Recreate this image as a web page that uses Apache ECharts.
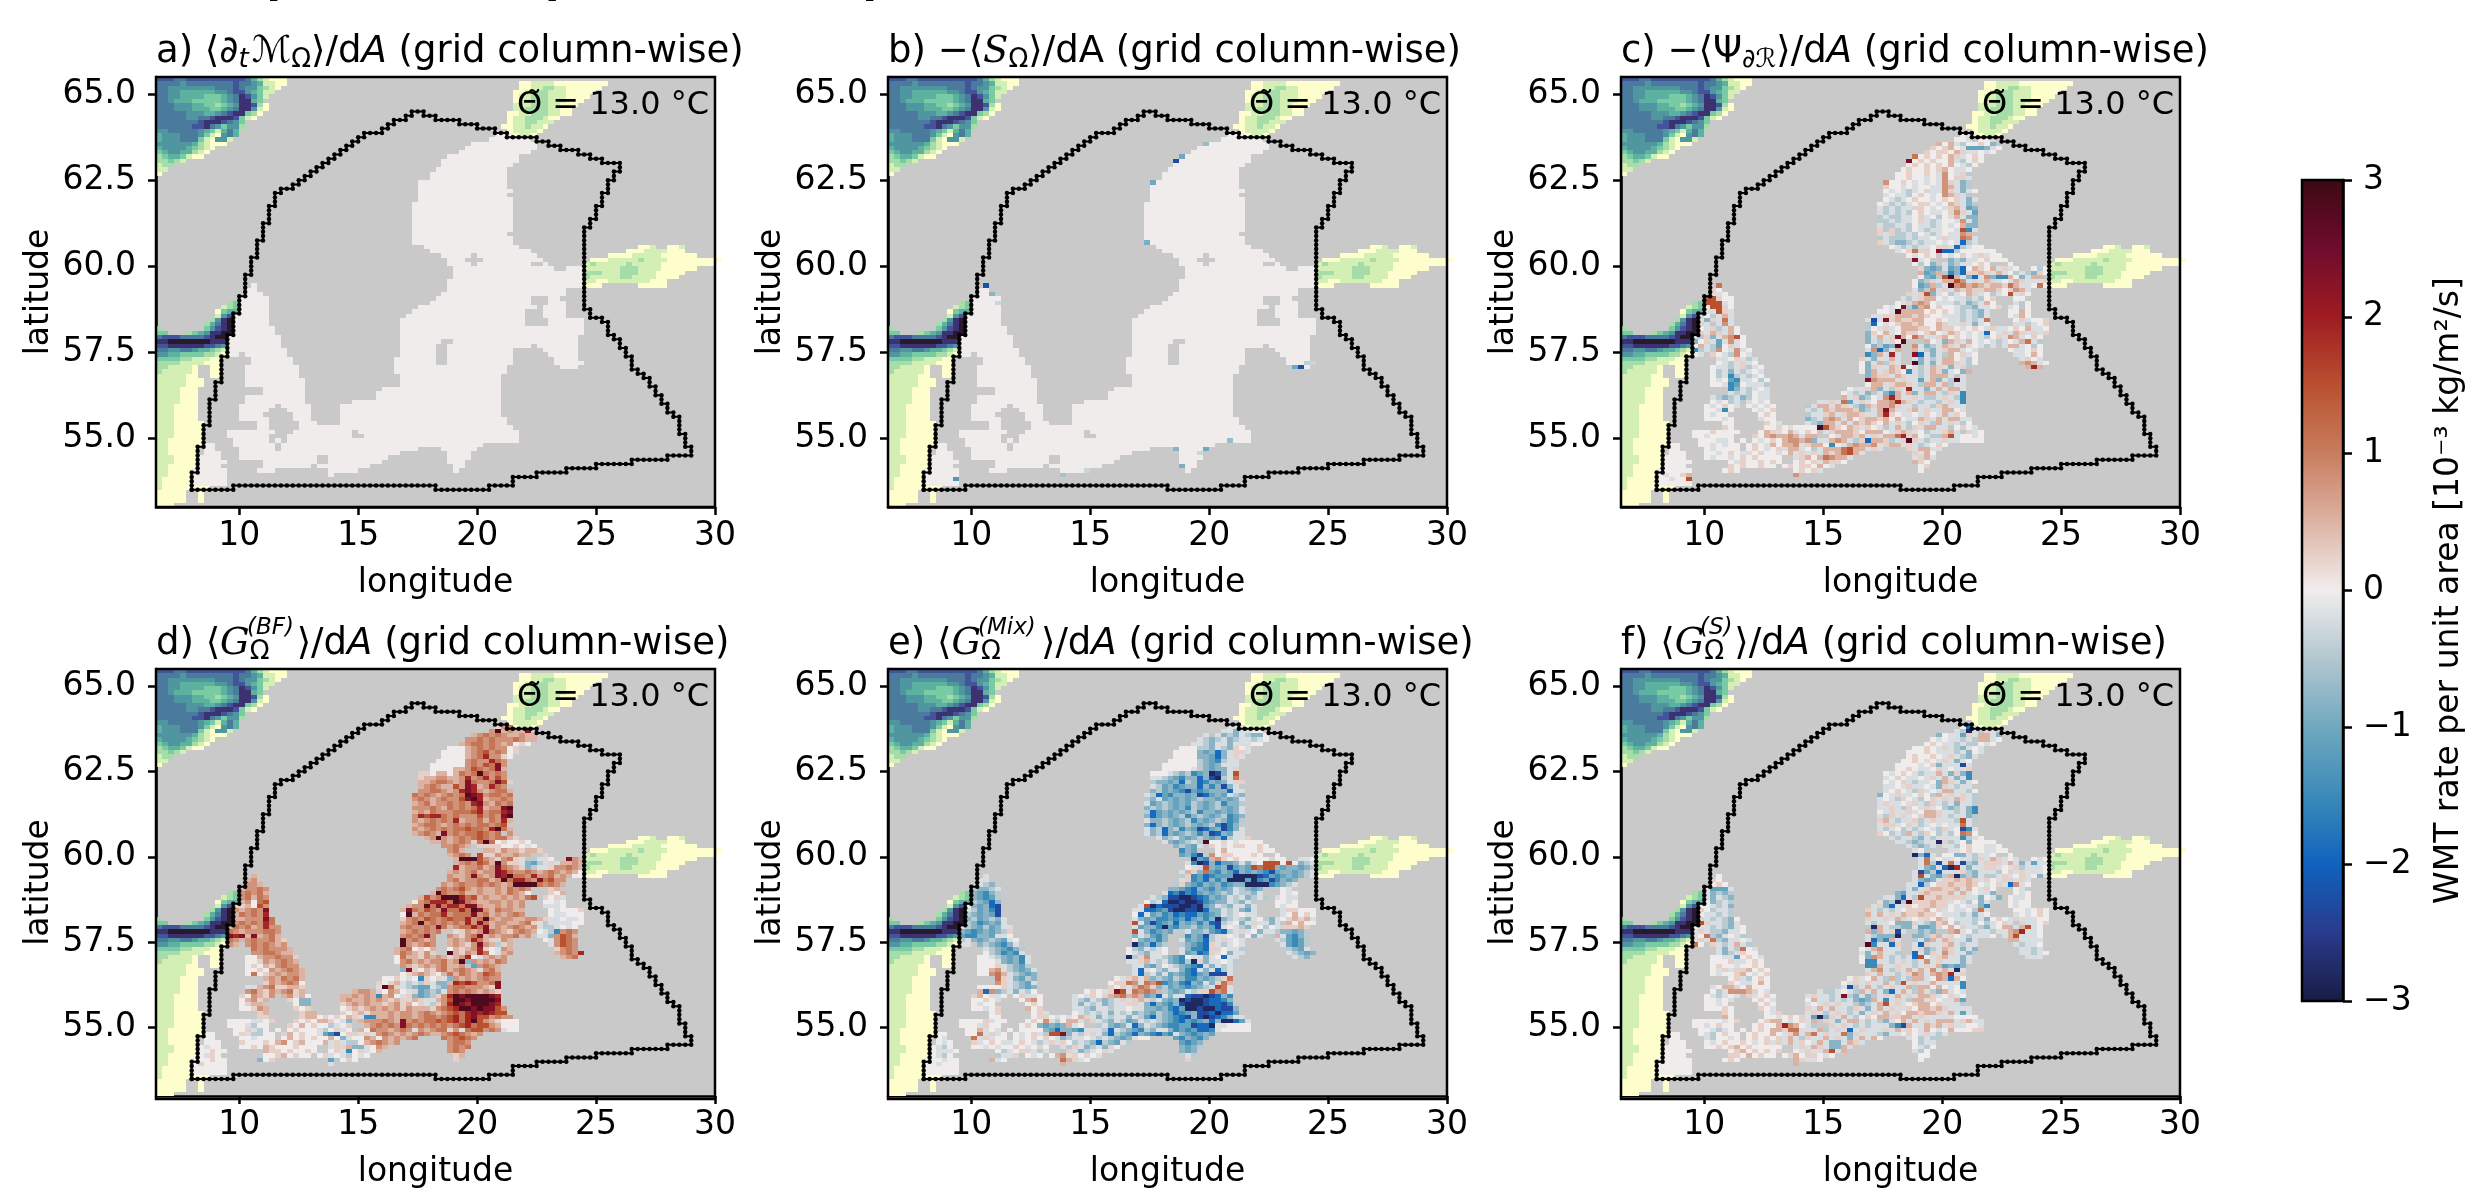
<!DOCTYPE html>
<html><head><meta charset="utf-8">
<style>html,body{margin:0;padding:0;background:#fff}#c{width:2492px;height:1190px}</style>
<script src="https://cdn.jsdelivr.net/npm/echarts@6/dist/echarts.min.js"></script></head>
<body><div id="c"></div>
<script>
const lonTicks=[10,15,20,25,30];
const latTicks=[55,57.5,60,62.5,65];
const cbTicks=[-3,-2,-1,0,1,2,3];
const balanceStops=['#181c43','#2a3a8c','#0f62bd','#3a8ab8','#6fa8bf','#b2c7cf','#f1eded','#dcb3a3','#c87d5e','#b9502f','#9e1b21','#6f0b2d','#3c0912'];
const deepStops=['#fdfecc','#d3efb4','#a6dca8','#79cba3','#5cb1a1','#5096a0','#4a7a9c','#42559a','#3c3272','#281a2c'];
const levelValues={0:0.01,a:.25,b:.5,c:.8,d:1.1,e:1.5,f:1.9,g:2.3,h:2.8,z:-.2,y:-.45,x:-.8,w:-1.1,v:-1.5,u:-1.9,t:-2.3,s:-2.8};

const oceanRuns={13:"57-59",14:"56-62",15:"53-63",16:"52-63",17:"51-62",18:"49-60",19:"48-60",20:"48-59",21:"47-58",22:"46-58",23:"46-58",24:"44-58",25:"44-58",26:"44-59",27:"44-58",28:"44-59",29:"43-59",30:"43-59",31:"43-59",32:"43-59",33:"43-59",34:"43-59",35:"43-59",36:"43-58",37:"43-59",38:"43-59",39:"45-60",40:"46-62",41:"48-52 54-63",42:"49-51 55-64",43:"49-52 54-62 65-65",44:"50-66 69-71",45:"50-71",46:"50-71",47:"49-71",48:"16-16 49-71",49:"15-16 49-68",50:"15-17 48-68",51:"14-18 47-62 66-67",52:"14-18 46-62 66-68",53:"14-18 44-63 65-68",54:"14-18 43-61 65-68",55:"13-18 42-61 65-68",56:"13-18 41-61 66-71",57:"13-18 41-61 66-71",58:"13-19 41-71",59:"13-19 41-71",60:"12-20 41-70",61:"12-20 41-47 50-70",62:"12-20 41-46 49-62 64-70",63:"12-21 41-46 49-59 65-70",64:"12-13 15-21 41-46 49-59 66-70",65:"16-22 40-46 49-59 67-70",66:"16-22 40-46 49-59 67-71",67:"15-23 40-58 68-70",68:"15-23 40-58",69:"15-23 41-57",70:"15-24 41-57",71:"15-24 41-57",72:"18-24 38-57",73:"18-24 37-57",74:"15-24 37-57",75:"15-24 33-57",76:"14-19 21-25 31-57",77:"14-18 22-25 31-57",78:"14-17 23-25 31-57",79:"14-18 23-25 31-58",80:"17-18 24-26 31-58",81:"17-18 24-59",82:"12-19 23-32 34-60",83:"12-18 22-32 35-60",84:"13-18 20-20 22-60",85:"8-9 13-19 21-54",86:"8-9 14-19 21-43 48-53",87:"8-10 14-40 49-52",88:"7-10 14-26 29-38 49-52",89:"7-11 18-26 29-37 49-51",90:"7-10 18-25 27-35 50-51",91:"6-11 17-19 29-33 50-50",92:"6-11 29-29",93:"6-11",94:"6-11"};

const panelA={};
const panelBOutliers=[[53,15,-.7],[49,18,-1],[48,19,-2.3],[44,24,-1],[43,38,-.9],[16,48,-2.2],[17,50,-.8],[18,52,-.3],[69,67,-2.2],[68,67,-1],[70,66,-.4],[71,66,-.3],[11,93,-1.3],[29,92,-.6],[33,91,-.3],[49,90,-.9],[48,86,-.8],[53,86,-1],[57,84,-.7],[52,87,-.3]];

const panelC={13:"0z0",14:"00zy00a",15:"b0bzy00a0xy",16:"a0ab0zwwwxz0",17:"a0aa0bazz0z0",18:"d0a0a0baz0a0",19:"g0a0a00bzy0a0",20:"0a0a0a0b0zy0",21:"0a00a0ab0zz0",22:"00a00a0zc0zay",23:"00a00z0zc0aaz",24:"c00a0z0z0zcazxy",25:"a00z0z00zzcbzxy",26:"0z0zyz0azzcazxz0",27:"z0zzy0a0z0cbazy",28:"0zyz0a00z0a0azxz",29:"0zyzyz0aa0z0bazxy",30:"zyzyzzaa0z0zabzwx",31:"zyzyzy0a0zz0acazw",32:"yzyyzz0az0y0zbzxx",33:"yyzyzz0azyz00zczx",34:"zyyzzy0zzyz0z0bxx",35:"ayayzy0zyzz00zevz",36:"azayyzy0zyz0zzcb",37:"yzyyyzyzz0zazzdcz",38:"azyxxyzyzz0z0zuyz",39:"0zyzyzz0aazuyz00",40:"z0adaa0guuy000000",41:"0z0a0 0z0a0zaz00",42:"gz0 xyxzz0a00",43:"0y0x zxyzz0a0y 0",44:"axwxzwxu0ba0bzaz 0y0",45:"bwxbyvxuaabazbz0yzyxa0",46:"0xwyehbzxuzcxvvb0xzbby",47:"0xyazbbeczazbaz0zbazzza",48:"d 0wxbyzhcdbcbabbadbzz0d0",49:"a0 zxyczazbabaabba0acbz",50:"zz0 azaexz0yz0baz0yz0eza0",51:"eea00 zyzabb0z0zzyzy0a 00",52:"eeez0 0zabcb0zzzyzxyzb0 zy0",53:"0eea0 0z0gywbc0a00zyyxzz0a z0y0",54:"zzeaz 00zhbbbb0a0a0zyzyxz 00b0",55:"a0yzbz zzaabbbaba00zzzyzyxz 0zb0",56:"zxazdz ztzgabaabb00a0zzyzyzd 0az00a",57:"azyzcz yu0z0abbab00bazzazxz0 zzyz0a",58:"0zayzb0 y0zaz0bbbaa0baa0z0a0zazz0a0bzz0",59:"azbazb0 xa0bz0baa0ab0zba0z0zu0zazbazaza",60:"zyaxzbce0 xzbzagb0dbzzab0a0z0zy0azcbz0a0",61:"x0azwzcz0 xzyza0h yb0zxbazb0z0zyz0zbdzy",62:"0bzyw0az0 0xywxh czxyzbazbz0zyz zbbz0y0",63:"vyzyc0zcz0 zcuxzb bzyxzabbz0z 0zz0a0",64:"0z a0zyc0z vxbzfz guzxzyb0az0 zz0b0",65:"zz0azyz azxzzbz zxzyzbb0zy0 za0z",66:"0zyzaz0 0xzbyaz hxzxzbbazy0 bcbz0",67:"0zzyzayz0 0xazzbaf0zyzbazxzay bfb",68:"0yzxzyz0z 0xbzaba0vzyzbaxz0xb",69:"0yzvyzyz0 xbaazbazzyzbbbzyz",70:"0z0wvzz0y0 gcbbbzazzwzbxzyhz",71:"00zvw0zzzy 0bbzabbazybbzbyzz",72:"vxzyz0z 0zzabxzyazfzzxzbzbbz",73:"zyzy0zz 0zyzxyzxvbzbxzbbzyazv",74:"zyxyzxy0zz bzaxy0zcfbzzazyyzazyv",75:"0z0yzyz0z0 zzazdwzaz0bbcfbazyzzyzazv",76:"0z0a0z 0z0z0 yzbbzbazyxbabbcazzyzzyabzzz",77:"00zv0 0z0a zyzbabbbaxyzbgbzzabzazzbb0z",78:"0z00 0a0 yzzabzabbazzbfa0zz0za0zbza0",79:"000z0 z00 xyzbcbzb0abbab0b0zzbazbzbbzz",80:"00 a0z zyxbbzbzbaba0bzazy0azybzazy0",81:"a0 00a0z0000heba0baza0zyzbzyazbbzzy0a0z",82:"000a0000 0baz0bz0a0 zabbba0bbb0zabaz0yzzabzyaz0",83:"00z0000 a0bcbbcbzbb 0zbbabzazbbdfab0zyybez00z0",84:"000zz0 0 0z0a0bccbcxzzbcbzyaubbayzahazyzzazz00",85:"00 00z0z00 0a0zb0bbczabb0v0zbcbbczabbzazyz0a0b",86:"00 0z0000 0a0z0azbbz0yzbbbdebbzaz azbbzz",87:"000 00z0a0zz0a00z0bzazazbabdebz azb0",88:"0000 0z00z0a0a0000 zab0bdcbbz zabz",89:"00000 0za00a0a0 0a0azbaa0 ba0",90:"0000 a0a00a00 0a0aa0b0z 0a",91:"000000 0a0 0a0az 0",92:"0z00ab c",93:"00z00e",94:"000000"};

const panelD={13:"acd",14:"chbcbbg",15:"bcdcdcbbcbb",16:"ccdcdcccdcbb",17:"bcddcdcbc0a0",18:"000bcdcdcc0a",19:"0000bcdecdc0a",20:"0000bcdfcca0",21:"00000cdccfdc",22:"000000cdcedgc",23:"0000bbcedcdgb",24:"aa0bb0bdcdhdcdc",25:"abbccbbcfcdfcec",26:"bbcddcbcgdccdgea",27:"bcdcbbecgfbcfdc",28:"ccddcbcfgfcbcddb",29:"dcdcbcdcdhgfcddcd",30:"cdcbcdcceghfbccdc",31:"bcdbccdcdcfgcbdcd",32:"cccdcbdcdcdfbccgh",33:"bcbdcccdddefcddfg",34:"cfeffdcdcccecdcgh",35:"cbcdcdcfbccdbdcfb",36:"bcddcbcdcdcddcde",37:"cbcdcdcddeddcfhdb",38:"bcdcbgcdcddedcdyc",39:"bchcbcdcdedcddba",40:"bbcbcdcadhd0a00a0",41:"ccdcb aaaa00a0z",42:"cdb bbacbbabba",43:"bcdc eaacbbcbb a",44:"bhhhecbacdazyyzz0 gcb",45:"bcdcedbhcaazxwyzazbbcb",46:"fbccdbcgdcbaxyzzaccdcb",47:"bcbcdbccgfdccdcbcdcbcb",48:"b cbbcgcbcgfhddcfccdbcb",49:"bc cdbccddbchdffdcgdecc",50:"ccb cbcdccdcdcbchhhhdcdcb",51:"bccdc cdcdecbcbbcbdcdc ab",52:"cdcdb bhdccdbbcbbcbdcb a0b",53:"cdbdc becdhhhfdebcbbcbcbde a0az",54:"bc0de 0cdfffdhgdcbbccbcbc 00z0",55:"aab0ec bcchdgdffdggcbbcbcbc zzz0",56:"cbcdcg bgdcedcgddfdhgcbdccbb 0z000a",57:"bdcdcf 0hbdcddfcdddgcdbcbcdc 0zz000",58:"bbcccgd acdcedcdeddfcdhcbccbbccbazz0zz0",59:"cdcdcfd bcdhcdcdcdcfcgdbccbbcdazyzzzz00",60:"bdcdbcfcc cdccdcgdbcddfdgbcbcdcbczyyz0z0",61:"dcbcccddc bcdcdcd zacbcgdcbacdcb0zyvcdc",62:"gfgbgbcdb cdcdgc cbacdgbcbccdbc zzxcedb",63:"dcbcdccdba hcdcbc bcbcfdbaacb 0zcedc",64:"cb cdcdcbc hcbcdc bcbacgcbyab zcedc",65:"dcdcccb bcd0a0b 0babcfa0zcb acdc",66:"ccddcbb bdcbaca hbacbfd0zbc bcdcf",67:"00bccdcca 0dbbacbcbabcf0zbcbc bcd",68:"00acbcdcb 0cdbcbccdbchxcbcbdc",69:"0a0bacdcc cbabcbcdbbcywcdcb",70:"00a0cbcdcb xga0bacdbcdcbzcdb",71:"0d0abcbccb 0abcba0bdbdcbcedc",72:"bcbdcdb 00a0z0va0azxcbcbcdcc",73:"acbcdc0 a0abzyzyazxxbfefeccdg",74:"zzbcdaabba zhdazyxwwzyxcddcccbag",75:"cdbacbcdab bccba0cb0zawxyxzcdcdcbcba",76:"a0cbac bcab0 bbcbcbvbc0zaxwxyacfhghhhhgf",77:"0bcab a0xx bcbbcbcbabaabazzbcehhghhhhg",78:"0abb 0xx abcbcbbabcab0azyacfhgfhhhgf",79:"00acb a0a 0ababcbcbcacbbbacdefhhghggec",80:"ab abb a0abzbbbcbccbcdcbcdedfgfgfee",81:"aa abb0a0a0bazvvbbcbccbcddcdefdfgeecdcc",82:"0000zz0a a0a0bba0zx bcccdcbgcdcddedefdfhecba0",83:"000zy00 a0b0a00yz0a bcdcdcgdcdcdcdcdefdeecb000",84:"00azy0 0 0a000zy0az0yb0dccbcdczcbcddaczdeecdcz000",85:"00 0azyy00 ab0a00zwvt0aazazcdcbcbcdcbbcdedcbc",86:"00 00z000 0b0a0a00b0xz00cb0cbcbcd dcdedc",87:"000 a000a0bc0ab000bzazyy0bcdcbc cddc",88:"0z00 00a0ba000a000 zaabxxz0cb cdcd",89:"00a00 baa0a00a0 0azv0az0b cdc",90:"0za0 00ab0a00 0az0zy0z0 ab",91:"000a00 x0a wy0a0 a",92:"0a0000 z",93:"000000",94:"000000"};

const panelE={13:"zzz",14:"zzxzz00",15:"zyzxyxzyxx0",16:"zyxyzxyzzyz0",17:"zzyxzzxzzz00",18:"000yyxzyxa0z",19:"0000xwxuxzaaz",20:"0000xxwuxzaz",21:"00000yxwvyzz",22:"000000yxwxzzz",23:"00000zyxwxxza",24:"000zyxyvwxstxze",25:"zzyxwvxxuxtsyzd",26:"yxxwxuyxuvxwxzaa",27:"zywxvwxxuxvxtxz",28:"xywxwvtwvwxxxuzz",29:"zyuwvxxwxtuwxwzyx",30:"yxzwxwxwxyxxwxwxz",31:"zwxyxwxwyxwxyvxxy",32:"xyxyxwxvyxwxyxwxz",33:"yuwxwxwxyvxxwxwxz",34:"xuwxwxyvxyxwxyvwx",35:"zxxyxwxyvxwxyxvwy",36:"xuxyxwxyxwxyvtvx",37:"zxyuxyvxwtuwxtvxz",38:"zxyuxwxyxvxtuxwzz",39:"zxyzxwxyxwxuyzza",40:"zxwxyzyh00a0z0000",41:"xyxwz a0z0aa00a",42:"vxw 0b00000a00",43:"wxvt c0aa000a0 0",44:"yswvbca0a00000a00 zz0",45:"zvstxuwwxzxz0eee0e0xyz",46:"0zaexwxtwxwedeexwxxwxy",47:"zbaxdwvxwuxwxwvtwxxwxyz",48:"z yavwuvwwwsssstuwvwxwxyz",49:"zz zavwuxvxssswsvwtvxwx",50:"zyx yaxwvxwxvwxxssssvwxyz",51:"yxxyz xxwvuxwvxwxzyxwx 0z",52:"xwvxy zuvtvuwxwxyxzyyxz 0z0",53:"xwvwy zyxttsstuvxwxzyzxyzy z0zz",54:"yxwux 0yzusstsstvwxxzyxzy 00z0",55:"0xwxut zesutttsstswxzyxzzxz 0z00",56:"zywxvt zzuuvwtssttsuxxzyzxwz zaa000",57:"yxwxwt 0uzwxvwuvuuwvwxzyz0zz z0b0a0",58:"xywxyxz zxwxvvwvwuwxvxsxyzyxz0yxz0ababz",59:"yxvwxwz ezwtvwxuxwxvxutyz0xzazzxzyb0b0",60:"zyxwywxzz zwxxvswvxxywxwtz0zyxz0y0zaaaba",61:"xwvwxwxya ezxvwxw zxxywvuyzaz0xzzyxxwxy",62:"wvvxxwzz0 xzywvx yvxwtyzz0zy0xz ybzwvxy",63:"yzxwxyxwz0 0xwxvx zwxwuyzaz0z zywvwy",64:"zz xyxwvxz swxuxy yxwvuazyz0z zwvwy",65:"zyxwvxy 0yxzyz0 zxvvuaa0zzy yxwz",66:"0yxvwvz 0zyxzz0 zwxuvaz0xzz zyxwx",67:"00zyxwxvz syaczzyxwv0zzxz0uzz zyx",68:"000zxwxvz zzabzyzxwvysaxzz0zy",69:"000azyxwy zzxwy0zyxwvuzxzyz",70:"00bczyxwxz zuz0yxzzxvuzxzuyz",71:"00cdbzyxwx zuyzxzwxwvuwxtttz",72:"dazxwyx 0zabzbxyxwyxvvxwxyad",73:"cazyxwz 0aadczdcevwxvuxwzxadb",74:"0000azyxwx a0azbdcaxywxwvwxyzedz",75:"bucxyzxzy0 0a0zagezdcdcbyxwxzyaaecdz",76:"ab0zz0 0azz0 z0za0abcdbcbwxuzxzzuttstuxv",77:"00a0z 0bc0 zyxzyxyzazabayzxwxstsstuuvx",78:"0z00 0a0 zxzyzxyzzaazxuxwvxtssstuutv",79:"00z0a b0a zzyxzzyzz0zzxxwxvuwsstssuttx",80:"0a 0az 0zyzyzxzyzxyxwyxwuvwxttusuuw",81:"00 0aa0z0z0bazxzyzzxzywuyxwvutxtstuvxzz",82:"0000az00 0a0czy0bbz azyxzywxzyzyxwvuwvwxuxssuwz0",83:"000za00 0a0xwxwxbz yzxwxzuxzyxwvvwwtuuszz00000",84:"00bz0z 0 0000xwuxxwvzzzyuzyxwvyxzzxvwvwuuvz0000",85:"00 00dzaz0 0z0azyeegxzyzazxuyxwuxwvuwvzxwvwxw",86:"0z dzaz00 0z0a0a0zxyzz0zyzyxwxz0 wvxwvx",87:"0z0 az0a0zz0a0zyzaza0yzyxuyxwzy wvwx",88:"0zy0 00z0z00a0z0a0 zyazxyzxa0 xwxy",89:"0zzz0 0yz0aazyz yazxyz0az xwx",90:"0zy0 yzzay0z0 0bcza0a0z zy",91:"000z00 bz0 dbaz0 a",92:"00z000 b",93:"000000",94:"000000"};

const panelF={13:"0uz",14:"zyszyaz",15:"x0zzwazbbzx",16:"0z0zzyzybbz0",17:"0a0zzyzyy0z0",18:"00a0zazyxz0z",19:"000a0zzzyzx0z",20:"0a00a0zazyxz",21:"00a0z0zazxz0",22:"0000z0axzzztz",23:"00a0zz0az0zza",24:"0z0a0zyzzbzxaxv",25:"z0a0zz0zazbzxzv",26:"0z0azyzz0xbazxz0",27:"zz0zazz0zxazyzz",28:"z0a0zyaz0zbbzzy0",29:"x0zazz0a0ybzazazy",30:"z0zya0zy0azazbazy",31:"zazz0zazyazyzxzzy",32:"zzazya0zaz0yxyzxv",33:"0zazzaz0bbazzyzxv",34:"zyazaz0abbazyzzxy",35:"abzyzzayzazzzyezy",36:"zaaz0azyz0z0zzdz",37:"zyz0yzyz0zyaz0tvz",38:"a0yzybzya0yzy0dc0",39:"zyzzyxzyzzzzvyz0",40:"zzyxyzzsayz0x0000",41:"zyxyz zzy0a00zz",42:"z0y zz0a00zz0",43:"sxuz 00xxzyzz0 0",44:"zdz0zz0zzyazbaz0z 0z0",45:"zdytzdztyxzaaazbzxzwzz",46:"zxwzusfzxzzaaz0zayzzz0",47:"ztwyuzzzayxzzzy0azazzz",48:"0 zezxwybsxyxzyyzaz0az0xz0",49:"a0 zxwxzaababaza0zaazaz",50:"0a0 zzuy0aabaaba0z0azucz",51:"zwwwz yzxzabbaabzb0za 0z",52:"zxyxy xwzzabaaabzbz0zzx 0z0",53:"zxzyx zzxuzyeaabaaaazzx0zx 0zz0",54:"0xyzy zxysyhaaabaaz0zy0xz 0z00",55:"00zyzx zaxuzza0aabaa0z0zzxv 0z00",56:"a0yzzy azyzyz0aaab0az0zz0ydz 00z0a0",57:"0zzyzy bzbzazbaabaa0zzzyzxz0 z0z0a0",58:"azyzyx0 azzazbaz0za0ba0zzzyzx0a0zazzz0",59:"eazzyxz zyzz0xxxazyxab0yzzy0yz0azyazz0a",60:"0zzyzyxz0 ysbzyyxxzwwxa0b0azzyxz0bbzbez0",61:"zazyyxzz0 bxbzatz xyxyybcz0yzzyzzbcfzz0",62:"z0dyxz0zy zyxxxs xxyabza0zyzzz0 zbezzz0",63:"zazdyxzz0z zuxvbz yzxbzbazzxz bbzzzz",64:"d0 azyzbzy hvzzua zuazzabzyzz zyzz0",65:"zxzyd0z 0zbczzz zaxyzbazxzx zzyz",66:"zxyza00 zxzbzzy uzxazcazzxy zzyz0",67:"00zzw0a0z 0xcbzyzyzue0zabzzxz zzz",68:"000azz0a0 0vvzzyzazyzczazzzxz",69:"0a00z00a0 vvbzzazzyzazbwxwx",70:"0zazaab0a0 zbczyazbzbzczbzsz",71:"0z00ab0z0a azbzzyzacbzbcbfza",72:"0azy0a0 0az0bzybyzybbz0cbub0",73:"a0zz0b0 0zazazzbzyezazzbzzzzv",74:"z0bba0b000 ztyzbzyzazzbybb0b0z0v",75:"0yzcccba0z zyyz0zybzbzxuzbzybzyxbz0z",76:"0zyz0z az0a0 zazzyzgyxzxyzazbzazbbaz0az0",77:"00z0z 0a0z 0bzzyzyzxwxbzvzazybbza0zzbw",78:"00z0 0a0 z0zazazzyxyzbezaz0abb0azzzy",79:"000a0 a0z azbzbzzyazxzbzazza0bbabazzzz",80:"a0 0za zazyzazyzxzazbza0bbabbazbzwz",81:"b0 00z0a0azwsxazbzy0a0bbaabbzazzzzz",82:"00000z0a 0abb0z0azb azxzbbzyzyxz0bzbzazbbbzabzz",83:"00z0a00 0a00bfcb0zy azazyzyzzzxvtbzzbabzazz00z",84:"00zyz0 0 0a0bbaddzzzbyzazuzazzzazbza0zb0z0b000aa",85:"00 0zy0a00 0a00b0zaczbdzazzdxazzzyxzz0a0zazyz",86:"00 zy00z0 0a0a0azbzyazzbzazxzbzb0 z0yzyy",87:"000 0z0a00a0z0azazbza0zbzxxzbaz 0yzz",88:"0000 00a0ab0a00000 zazbazxxbz 0zy0",89:"00000 0ab0a0a0a 0zazzbezb zy0",90:"0000 aa0b0a00 0ab0aa0z0 00",91:"000000 0a0 bazz0 0",92:"000000 b",93:"000000",94:"000000"};

const landRows=[
[0,0,"7776677777777776421000"],[1,0,"6666566666666766541100"],[2,0,"665555555566676553210"],[3,0,"66554444445567754311"],[4,0,"6655444433345687531"],[5,0,"665444333334568843"],[6,0,"6665554433234588720"],[7,0,"6665554443345688510"],[8,0,"666665554456788320"],[9,0,"66666556678887310"],[10,0,"666666678887653"],[11,0,"666666778653552"],[12,0,"55666665431464"],[13,0,"45556665310564"],[14,0,"4555666310551"],[15,0,"555555421000"],[16,0,"4555543210"],[17,0,"345544210"],[18,0,"23443100"],[19,0,"22321"],[20,0,"122"],[21,0,"11"],[22,0,"0"],
[1,61,"001111000000000"],[2,61,"00112211000000"],[3,60,"00112211100000"],[4,60,"0112221110000"],[5,60,"011222111000"],[6,60,"11122211000"],[7,60,"1122221100"],[8,59,"00112221100"],[9,59,"011222100"],[10,59,"01122111"],[11,58,"00112110"],[12,59,"011110"],[13,60,"0110"],
[39,81,"001"],[39,86,"001"],[40,79,"0001111000"],[41,76,"000011111000000"],[42,73,"0001111121111000000000"],[43,72,"1211111211111000000000"],[44,72,"1111112221111000000"],[45,72,"22211122211100000"],[46,72,"2111112211110000"],[47,72,"11001111111000"],[48,72,"000"],[48,81,"00000"],
[52,12,"23"],[53,11,"123"],[54,10,"0344"],[55,10,"1579"],[56,9,"25899"],[57,8,"246899"],[58,0,"2"],[58,8,"357899"],[59,0,"33"],[59,5,"23458899"],[60,0,"6777666678998"],[61,0,"889999999888"],[62,0,"778888887765"],[63,0,"665566544321"],[64,0,"554433332210"],[65,0,"33332211100"],[66,0,"22221111000"],[67,0,"2211110..00"],[68,0,"2111110..00"],[69,0,"1111100..00"],[70,0,"11111000"],[71,0,"11111000"],[72,0,"1111000"],[73,0,"1111000"],[74,0,"1111000"],[75,0,"1111000"],[76,0,"1110000"],[77,0,"1110000"],[78,0,"1110000"],[79,0,"1110000"],[80,0,"11100000"],[81,0,"11100000"],[82,0,"11100000"],[83,0,"11100000"],[84,0,"11000000"],[85,0,"11000000"],[86,0,"1100000"],[87,0,"1100000"],[88,0,"1110000"],[89,0,"1110000"],[90,0,"1100000"],[91,0,"1100000"],[92,0,"1100000"],[93,0,"1000000"],[94,0,"1000000"],[95,0,"100000000"],[96,0,"00000..0"],[97,0,"00000..0"],[98,0,"00000..0"],[99,0,"000..."]
];

const regionStart=[6,96];
const regionMoves="U4 R1 U6 R1 U5 R1 U6 R1 U4 R1 U6 R1 U5 R1 U5 R1 U4 R1 U5 R1 U4 R1 U4 R1 U4 R1 U4 R1 U3 R1 U1 R2 U1 R1 U1 R1 U1 R1 U1 R1 U1 R1 U1 R1 U1 R1 U1 R1 U1 R1 U1 R1 U1 R1 U1 R1 U1 R1 R2 U1 R1 U1 R1 U1 R2 U1 R1 U1 R2 D1 R2 D1 R4 D1 R3 D1 R3 D1 R2 D1 R5 D1 R2 D1 R2 D1 R3 D1 R2 D1 R2 D1 R3 D2 L1 D2 L1 D3 L1 D3 L1 D3 L1 D2 L1 D19 R1 D2 R2 D1 R1 D3 R1 D1 R1 D2 R1 D2 R1 D3 R1 D1 R1 D1 R1 D2 R1 D2 R1 D2 R1 D2 R1 D1 R1 D4 R1 D3 R1 D2 L4 D1 L6 D1 L6 D1 L5 D1 L5 D1 L4 D2 L4 D1 L9 U1 L34 D1 L7";

const panelTitles=[
 "a) ⟨∂{sub|t}{mc|ℳ}{sub0|Ω}⟩/d{i|A} (grid column-wise)",
 "b) −⟨{cal|S}{sub0|Ω}⟩/dA (grid column-wise)",
 "c) −⟨Ψ{sub0|∂ℛ}⟩/d{i|A} (grid column-wise)",
 "d) ⟨{cal|G}{subw|Ω}⟩/d{i|A} (grid column-wise)",
 "e) ⟨{cal|G}{subx|Ω}⟩/d{i|A} (grid column-wise)",
 "f) ⟨{cal|G}{suby|Ω}⟩/d{i|A} (grid column-wise)"
];
const panelSups=[null,null,null,"(BF)","(Mix)","(S)"];
const isoLabel="Θ̃ = 13.0 °C";
const xName="longitude",yName="latitude",cbName="WMT rate per unit area [10⁻³ kg/m²/s]";
const cutOffTitle="Comparison of spatial terms  per unit area of WMT rate tendencies";

// layout
const FONT='"DejaVu Sans"',FS=33,TFS=37,SFS=26,W=2492,H=1190;
const lefts=[156,888,1621],tops=[77,669],gw=559,gh=430;
const lon0=6.5,lat0=65.5,dLon=.25,dLat=.125;

function cellsFrom(strs,outliers){
  const out=[];
  Object.keys(oceanRuns).forEach(r=>{
    const segs=(strs[r]||'').split(' ');
    oceanRuns[r].split(' ').forEach((run,i)=>{
      const [a,b]=run.split('-').map(Number),s=segs[i]||'';
      for(let c=a;c<=b;c++){
        const v=levelValues[s[c-a]];
        out.push([lon0+c*dLon,lat0-r*dLat,v===undefined?levelValues[0]:v]);
      }
    });
  });
  (outliers||[]).forEach(o=>out.push([lon0+o[0]*dLon,lat0-o[1]*dLat,o[2]]));
  return out;
}
const landData=[];
landRows.forEach(([r,c0,s])=>{for(let k=0;k<s.length;k++){if(s[k]!=='.')landData.push([lon0+(c0+k)*dLon,lat0-r*dLat,+s[k]]);}});
const regionLine=[];
(function(){let c=regionStart[0],r=regionStart[1];regionLine.push([lon0+c*dLon,lat0-r*dLat]);
 regionMoves.split(' ').forEach(m=>{const d=m[0],n=+m.slice(1);for(let i=0;i<n;i++){if(d==='U')r--;if(d==='D')r++;if(d==='L')c--;if(d==='R')c++;regionLine.push([lon0+c*dLon,lat0-r*dLat]);}});})();

const panelData=[cellsFrom(panelA),cellsFrom(panelA,panelBOutliers),cellsFrom(panelC),cellsFrom(panelD),cellsFrom(panelE),cellsFrom(panelF)];

function renderCell(params,api){
  const lon=api.value(0),lat=api.value(1);
  const p0=api.coord([lon,lat]),p1=api.coord([lon+dLon,lat-dLat]);
  const x0=Math.round(p0[0]),y0=Math.round(p0[1]),x1=Math.round(p1[0]),y1=Math.round(p1[1]);
  return {type:'rect',shape:{x:x0,y:y0,width:x1-x0,height:y1-y0},style:{fill:api.visual('color')}};
}
const rich={
 sub:{fontSize:SFS,fontFamily:FONT,fontStyle:'italic',padding:[15,3,0,0],color:'#000'},
 sub0:{fontSize:SFS,fontFamily:FONT,padding:[15,0,0,0],color:'#000'},
 subw:{fontSize:SFS,fontFamily:FONT,padding:[15,0,0,0],width:47,align:'left',color:'#000'},
 subx:{fontSize:SFS,fontFamily:FONT,padding:[15,0,0,0],width:60,align:'left',color:'#000'},
 suby:{fontSize:SFS,fontFamily:FONT,padding:[15,0,0,0],width:30,align:'left',color:'#000'},
 mc:{fontSize:TFS,fontFamily:FONT,color:'#000'},
 cal:{fontSize:TFS,fontFamily:'"DejaVu Serif"',fontStyle:'italic',color:'#000'},
 i:{fontSize:TFS,fontFamily:FONT,fontStyle:'italic',color:'#000'}
};
const grids=[],xAxes=[],yAxes=[],series=[],titles=[],graphics=[];
const supDx=[0,0,0,91,90,79];
const landIdx=[],cellIdx=[];
for(let p=0;p<6;p++){
  const L=lefts[p%3],T=tops[p<3?0:1];
  grids.push({left:L,top:T,width:gw,height:gh,show:true,backgroundColor:'#c9c9c9',borderWidth:0});
  xAxes.push({type:'value',gridIndex:p,min:lon0,max:30,splitLine:{show:false},
    axisLine:{show:true,onZero:false,lineStyle:{color:'#000',width:2.5}},
    axisTick:{show:true,length:8,customValues:lonTicks,lineStyle:{color:'#000',width:2.5}},
    axisLabel:{customValues:lonTicks,fontSize:FS,fontFamily:FONT,color:'#000',margin:13},
    name:xName,nameLocation:'middle',nameGap:60,nameTextStyle:{fontSize:FS,fontFamily:FONT,color:'#000'}});
  yAxes.push({type:'value',gridIndex:p,min:53,max:lat0,splitLine:{show:false},
    axisLine:{show:true,onZero:false,lineStyle:{color:'#000',width:2.5}},
    axisTick:{show:true,length:8,customValues:latTicks,lineStyle:{color:'#000',width:2.5}},
    axisLabel:{customValues:latTicks,formatter:v=>Number(v).toFixed(1),fontSize:FS,fontFamily:FONT,color:'#000',margin:20,padding:[4,0,0,0]},
    name:yName,nameLocation:'middle',nameGap:100,nameTextStyle:{fontSize:FS,fontFamily:FONT,color:'#000'}});
  landIdx.push(series.length);
  series.push({type:'custom',xAxisIndex:p,yAxisIndex:p,data:landData,renderItem:renderCell,encode:{x:0,y:1},silent:true,animation:false,progressive:0,z:2});
  cellIdx.push(series.length);
  series.push({type:'custom',xAxisIndex:p,yAxisIndex:p,data:panelData[p],renderItem:renderCell,encode:{x:0,y:1},silent:true,animation:false,progressive:0,z:3});
  series.push({type:'line',xAxisIndex:p,yAxisIndex:p,data:regionLine,symbol:'circle',symbolSize:4.5,showSymbol:true,showAllSymbol:true,silent:true,animation:false,
    lineStyle:{color:'#000',width:2},itemStyle:{color:'#000'},z:4});
  titles.push({text:panelTitles[p],left:L,top:T-45,padding:0,textStyle:{fontSize:TFS,fontFamily:FONT,fontWeight:'normal',color:'#000',rich}});
  if(panelSups[p])titles.push({text:panelSups[p],left:L+supDx[p],top:T-52,padding:0,textStyle:{fontSize:23,fontFamily:FONT,fontStyle:'italic',fontWeight:'normal',color:'#000'}});
  titles.push({text:isoLabel,right:W-(L+gw-6),top:T+13,padding:0,textStyle:{fontSize:32,fontFamily:FONT,fontWeight:'normal',color:'#000'}});
  graphics.push({type:'rect',z:50,shape:{x:L,y:T,width:gw,height:gh},style:{fill:'none',stroke:'#000',lineWidth:2.5}});
}
// colour bar
const CB=6;
grids.push({left:2302,top:180,width:41,height:821,show:false});
xAxes.push({type:'value',gridIndex:CB,min:0,max:1,show:false});
yAxes.push({type:'value',gridIndex:CB,position:'right',min:-3,max:3,interval:1,splitLine:{show:false},
  axisLine:{show:true,onZero:false,lineStyle:{color:'#000',width:2.5}},
  axisTick:{show:true,length:9,customValues:cbTicks,lineStyle:{color:'#000',width:2.5}},
  axisLabel:{customValues:cbTicks,fontSize:FS,fontFamily:FONT,color:'#000',margin:20,formatter:v=>String(v).replace('-','−')},
  name:cbName,nameLocation:'middle',nameRotate:90,nameGap:90,nameTextStyle:{fontSize:33,fontFamily:FONT,color:'#000'}});
series.push({type:'custom',xAxisIndex:CB,yAxisIndex:CB,data:[[0,-3,1,3]],silent:true,animation:false,encode:{x:[0,2],y:[1,3]},z:3,
  renderItem:(params,api)=>{
    const a=api.coord([api.value(0),api.value(3)]),b=api.coord([api.value(2),api.value(1)]);
    return {type:'rect',shape:{x:a[0],y:a[1],width:b[0]-a[0],height:b[1]-a[1]},style:{
      fill:new echarts.graphic.LinearGradient(0,1,0,0,balanceStops.map((c,i)=>({offset:i/(balanceStops.length-1),color:c}))),stroke:'#000',lineWidth:2.5}};
  }});
graphics.push({type:'text',z:60,x:163,y:-40,style:{text:cutOffTitle,font:'bold 42px '+FONT,fill:'#000'}});

const chart=echarts.init(document.getElementById('c'),null,{renderer:'canvas',width:W,height:H});
chart.setOption({animation:false,backgroundColor:'#fff',grid:grids,xAxis:xAxes,yAxis:yAxes,title:titles,series,graphic:graphics,tooltip:{show:false},
  visualMap:[
   {type:'continuous',show:false,dimension:2,min:-3,max:3,seriesIndex:cellIdx,inRange:{color:balanceStops}},
   {type:'continuous',show:false,dimension:2,min:0,max:9,seriesIndex:landIdx,inRange:{color:deepStops}}
  ]});
</script></body></html>
